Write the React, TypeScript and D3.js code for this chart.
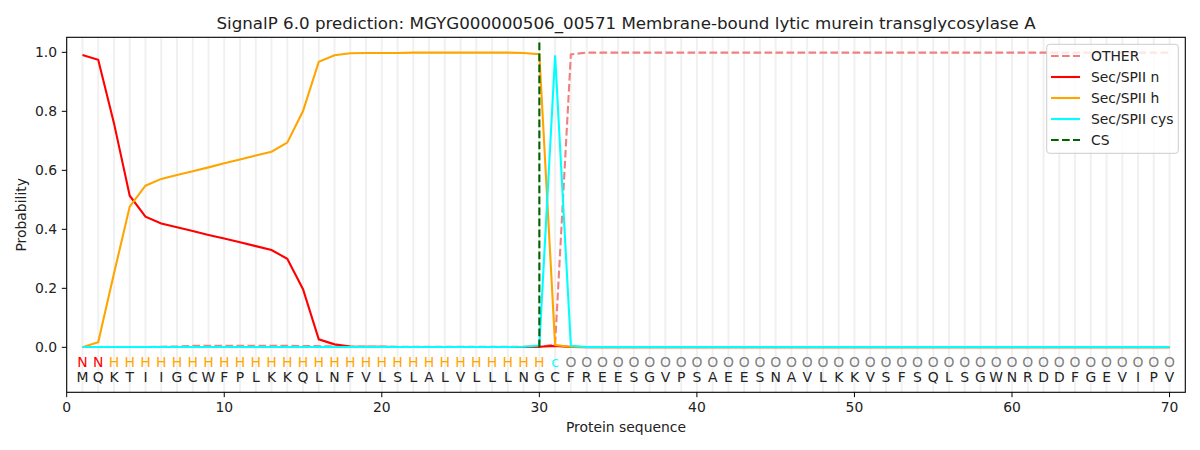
import React from 'react';
import * as d3 from 'd3';

const positions = d3.range(1, 71);

const sequence = 'MQKTIIGCWFPLKKQLNFVLSLALVLLLNGCFREESGVPSAEESNAVLKKVSFSQLSGWNRDDFGEVIPV';
const regionLabels = 'NNHHHHHHHHHHHHHHHHHHHHHHHHHHHHcOOOOOOOOOOOOOOOOOOOOOOOOOOOOOOOOOOOOOOO';

const other = [
  0.001, 0.001, 0.001, 0.001, 0.001, 0.002, 0.003, 0.005, 0.005, 0.005,
  0.005, 0.005, 0.005, 0.005, 0.004, 0.004, 0.003, 0.002, 0.002, 0.002,
  0.002, 0.002, 0.002, 0.002, 0.002, 0.002, 0.002, 0.002, 0.002, 0.001,
  0.01, 0.993, 0.999, 0.999, 0.999, 0.999, 0.999, 0.999, 0.999, 0.999,
  0.999, 0.999, 0.999, 0.999, 0.999, 0.999, 0.999, 0.999, 0.999, 0.999,
  0.999, 0.999, 0.999, 0.999, 0.999, 0.999, 0.999, 0.999, 0.999, 0.999,
  0.999, 0.999, 0.999, 0.999, 0.999, 0.999, 0.999, 0.999, 0.999, 0.999,
];
const secN = [
  0.991, 0.975, 0.76, 0.514, 0.443, 0.42, 0.407, 0.394, 0.381, 0.369,
  0.356, 0.343, 0.33, 0.3, 0.197, 0.027, 0.01, 0.003, 0.002, 0.002,
  0.001, 0.001, 0.001, 0.001, 0.001, 0.001, 0.001, 0.001, 0.001, 0.002,
  0.005, 0.001, 0, 0, 0, 0, 0, 0, 0, 0,
  0, 0, 0, 0, 0, 0, 0, 0, 0, 0,
  0, 0, 0, 0, 0, 0, 0, 0, 0, 0,
  0, 0, 0, 0, 0, 0, 0, 0, 0, 0,
];
const secH = [
  0.0, 0.017, 0.25, 0.477, 0.548, 0.571, 0.584, 0.597, 0.61, 0.624,
  0.637, 0.65, 0.663, 0.694, 0.801, 0.968, 0.99, 0.997, 0.998, 0.998,
  0.998, 0.999, 0.999, 0.999, 0.999, 0.999, 0.999, 0.999, 0.998, 0.994,
  0.008, 0.002, 0.001, 0, 0, 0, 0, 0, 0, 0,
  0, 0, 0, 0, 0, 0, 0, 0, 0, 0,
  0, 0, 0, 0, 0, 0, 0, 0, 0, 0,
  0, 0, 0, 0, 0, 0, 0, 0, 0, 0,
];
const secCys = [
  0.001, 0.001, 0.001, 0.001, 0.001, 0.001, 0.001, 0.001, 0.001, 0.001,
  0.001, 0.001, 0.001, 0.001, 0.001, 0.001, 0.001, 0.001, 0.001, 0.001,
  0.001, 0.001, 0.001, 0.001, 0.001, 0.001, 0.001, 0.001, 0.002, 0.006,
  0.99, 0.005, 0.001, 0.001, 0.001, 0.001, 0.001, 0.001, 0.001, 0.001,
  0.001, 0.001, 0.001, 0.001, 0.001, 0.001, 0.001, 0.001, 0.001, 0.001,
  0.001, 0.001, 0.001, 0.001, 0.001, 0.001, 0.001, 0.001, 0.001, 0.001,
  0.001, 0.001, 0.001, 0.001, 0.001, 0.001, 0.001, 0.001, 0.001, 0.001,
];
const cleavageSite = 30;

const xTicks = [0, 10, 20, 30, 40, 50, 60, 70];
const yTicks = [0, 0.2, 0.4, 0.6, 0.8, 1.0];

const series = [
  { name: 'OTHER', values: other, color: '#f08080', dash: '7.7,3.3' },
  { name: 'Sec/SPII n', values: secN, color: 'red', dash: '' },
  { name: 'Sec/SPII h', values: secH, color: 'orange', dash: '' },
  { name: 'Sec/SPII cys', values: secCys, color: 'cyan', dash: '' },
];

const labelColor: Record<string, string> = { N: 'red', H: 'orange', c: 'cyan', O: 'gray' };

const W = 1200;
const H = 450;
const margin = { top: 37.3, right: 14.7, bottom: 57.7, left: 66.7 };
const font = 'DejaVu Sans, sans-serif';

export default function App() {
  const x = d3.scaleLinear().domain([0, 71]).range([margin.left, W - margin.right]);
  const y = d3.scaleLinear().domain([-0.1525, 1.051]).range([H - margin.bottom, margin.top]);

  const line = d3
    .line<number>()
    .x((_, i) => x(positions[i]))
    .y(d => y(d));

  const legendItems = [
    ...series.map(s => ({ name: s.name, color: s.color, dash: s.dash })),
    { name: 'CS', color: 'darkgreen', dash: '7.7,3.3' },
  ];

  return (
    <svg
      width={W}
      height={H}
      style={{ position: 'absolute', left: 0, top: 0, background: 'white' }}
      fontFamily={font}
    >
      {/* light vertical guides at every residue */}
      {positions.map(p => (
        <line
          key={'g' + p}
          x1={x(p)}
          x2={x(p)}
          y1={margin.top}
          y2={H - margin.bottom}
          stroke="#000"
          strokeOpacity={0.06}
          strokeWidth={2}
        />
      ))}

      {series.map(s => (
        <path
          key={s.name}
          d={line(s.values) || ''}
          fill="none"
          stroke={s.color}
          strokeWidth={2.1}
          strokeDasharray={s.dash || undefined}
        />
      ))}

      {/* cleavage site */}
      <line
        x1={x(cleavageSite)}
        x2={x(cleavageSite)}
        y1={y(0)}
        y2={y(1.038)}
        stroke="darkgreen"
        strokeWidth={2.1}
        strokeDasharray="7.7,3.3"
      />

      {/* region labels and sequence */}
      {positions.map((p, i) => (
        <g key={'t' + p} fontSize={13.9} textAnchor="middle">
          <text x={x(p)} y={366.7} fill={labelColor[regionLabels[i]]}>
            {regionLabels[i]}
          </text>
          <text x={x(p)} y={381.7} fill="#222">
            {sequence[i]}
          </text>
        </g>
      ))}

      {/* axes frame */}
      <rect
        x={margin.left}
        y={margin.top}
        width={W - margin.left - margin.right}
        height={H - margin.top - margin.bottom}
        fill="none"
        stroke="black"
        strokeWidth={1.1}
      />

      {xTicks.map(t => (
        <g key={'x' + t}>
          <line x1={x(t)} x2={x(t)} y1={H - margin.bottom} y2={H - margin.bottom + 4.9} stroke="black" />
          <text x={x(t)} y={411.5} fontSize={13.9} textAnchor="middle" fill="#222">
            {t}
          </text>
        </g>
      ))}
      {yTicks.map(t => (
        <g key={'y' + t}>
          <line x1={margin.left - 4.9} x2={margin.left} y1={y(t)} y2={y(t)} stroke="black" />
          <text x={57} y={y(t) + 5} fontSize={13.9} textAnchor="end" fill="#222">
            {d3.format('.1f')(t)}
          </text>
        </g>
      ))}

      <text x={(margin.left + W - margin.right) / 2} y={432} fontSize={13.9} textAnchor="middle" fill="#222">
        Protein sequence
      </text>
      <text
        transform={`translate(26,${(margin.top + H - margin.bottom) / 2}) rotate(-90)`}
        fontSize={13.9}
        textAnchor="middle"
        fill="#222"
      >
        Probability
      </text>
      <text x={(margin.left + W - margin.right) / 2} y={29} fontSize={16.7} textAnchor="middle" fill="#222">
        SignalP 6.0 prediction: MGYG000000506_00571 Membrane-bound lytic murein transglycosylase A
      </text>

      {/* legend */}
      <g>
        <rect x={1046.7} y={44.3} width={131.6} height={109} rx={3} fill="white" fillOpacity={0.8} stroke="#cccccc" />
        {legendItems.map((it, i) => (
          <g key={it.name} transform={`translate(0,${56 + i * 21})`}>
            <line x1={1051} x2={1080} y1={0} y2={0} stroke={it.color} strokeWidth={2.1} strokeDasharray={it.dash || undefined} />
            <text x={1091} y={5} fontSize={13.9} fill="#222">
              {it.name}
            </text>
          </g>
        ))}
      </g>
    </svg>
  );
}
